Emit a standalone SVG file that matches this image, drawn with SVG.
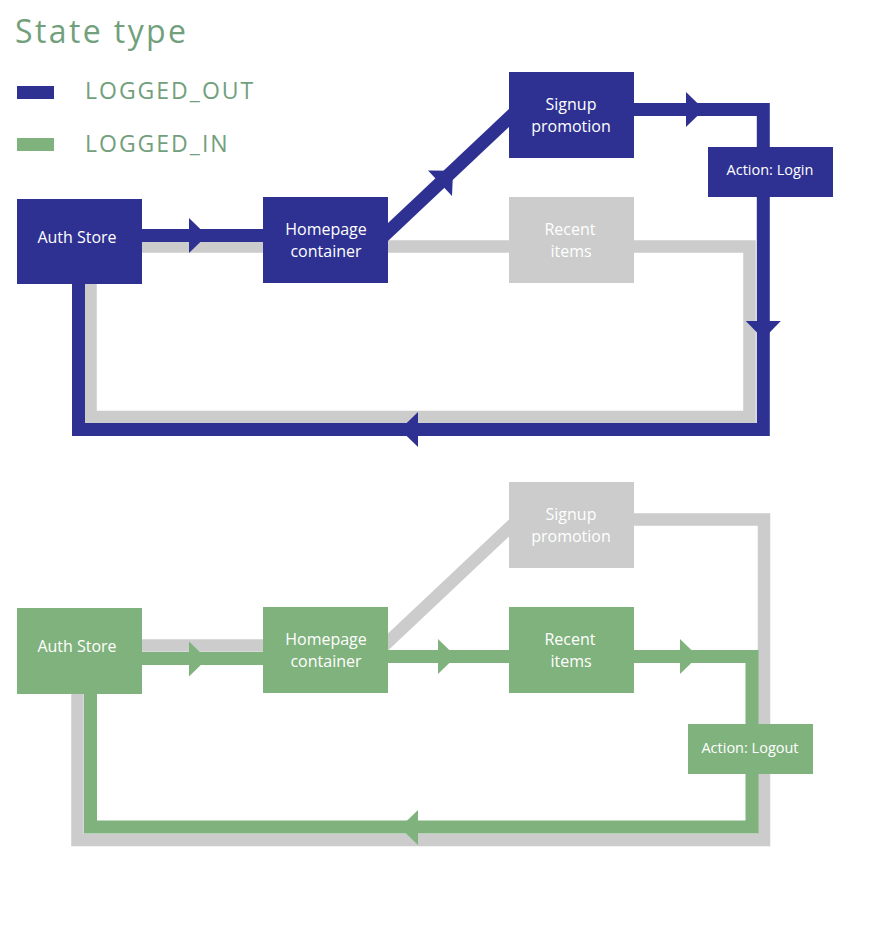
<svg xmlns="http://www.w3.org/2000/svg" xmlns:xlink="http://www.w3.org/1999/xlink" width="880" height="927" viewBox="0 0 880 927">
<defs>
<style>
.bg{fill:#ffffff}
.blue{fill:#2E3192}
.green{fill:#7FB27D}
.grey{fill:#CBCCCB}
.lb{fill:none;stroke:#2E3192;stroke-width:13;stroke-linejoin:miter}
.lg{fill:none;stroke:#7FB27D;stroke-width:13;stroke-linejoin:miter}
.lx{fill:none;stroke:#CBCCCB;stroke-width:12.5;stroke-linejoin:miter}
.nt{font-family:"Open Sans","Liberation Sans",sans-serif;font-size:16px;fill:#ffffff;text-anchor:middle}
.at{font-family:"Open Sans","Liberation Sans",sans-serif;font-size:14.5px;fill:#ffffff;text-anchor:middle}
.title{font-family:"Open Sans","Liberation Sans",sans-serif;font-size:32px;fill:#72A07C;letter-spacing:2.4px}
.leg{font-family:"Open Sans","Liberation Sans",sans-serif;font-size:23px;fill:#72A07C;letter-spacing:2px}
</style>
<polygon id="ah" points="0,-17.5 18,0 0,17.5"/>
</defs>
<rect class="bg" x="0" y="0" width="880" height="927"/>

<g id="legend">
<text class="title" x="15" y="43">State type</text>
<rect class="blue" x="17" y="86" width="37" height="13"/>
<text class="leg" x="85" y="99">LOGGED_OUT</text>
<rect class="green" x="17" y="138" width="37" height="13"/>
<text class="leg" x="85" y="152">LOGGED_IN</text>
</g>

<g id="connectors">
<!-- top diagram -->
<path class="lx" d="M142,246.5 H749.5 V417 H90.5 V284"/>
<path class="lb" d="M142,235.5 H263"/>
<path class="lb" d="M373.4,245.8 L523.6,104.2"/>
<path class="lb" d="M634,109.5 H763.3 V147"/>
<path class="lb" d="M763.3,197 V429.5 H78.5 V284"/>
<use xlink:href="#ah" class="blue" transform="translate(189,235.5)"/>
<use xlink:href="#ah" class="blue" transform="translate(440,183.2) rotate(-43.3)"/>
<use xlink:href="#ah" class="blue" transform="translate(686,109.5)"/>
<use xlink:href="#ah" class="blue" transform="translate(763.3,321) rotate(90)"/>
<use xlink:href="#ah" class="blue" transform="translate(418,429.5) rotate(180)"/>
<!-- bottom diagram -->
<path class="lx" d="M142,645.5 H263"/>
<path class="lx" d="M373.4,655.8 L523.6,514.2"/>
<path class="lx" d="M634,519.5 H764 V840 H77.5 V694"/>
<path class="lg" d="M142,658.5 H263"/>
<path class="lg" d="M388,656.5 H752 V827 H90.5 V694"/>
<use xlink:href="#ah" class="green" transform="translate(189,659)"/>
<use xlink:href="#ah" class="green" transform="translate(438,656.5)"/>
<use xlink:href="#ah" class="green" transform="translate(680,656.5)"/>
<use xlink:href="#ah" class="green" transform="translate(418,827.5) rotate(180)"/>
</g>

<g id="auth-store-out">
<rect class="blue" x="17" y="199" width="125" height="85"/>
<text class="nt" x="77" y="243">Auth Store</text>
</g>
<g id="homepage-out">
<rect class="blue" x="263" y="197" width="125" height="86"/>
<text class="nt" x="326" y="235">Homepage</text>
<text class="nt" x="326" y="257">container</text>
</g>
<g id="signup-out">
<rect class="blue" x="509" y="72" width="125" height="86"/>
<text class="nt" x="571" y="110">Signup</text>
<text class="nt" x="571" y="132">promotion</text>
</g>
<g id="recent-out">
<rect class="grey" x="509" y="197" width="125" height="86"/>
<text class="nt" x="570" y="235">Recent</text>
<text class="nt" x="571" y="257">items</text>
</g>
<g id="action-login">
<rect class="blue" x="708" y="147" width="125" height="50"/>
<text class="at" x="770" y="175">Action: Login</text>
</g>

<g id="auth-store-in">
<rect class="green" x="17" y="608" width="125" height="86"/>
<text class="nt" x="77" y="652">Auth Store</text>
</g>
<g id="homepage-in">
<rect class="green" x="263" y="607" width="125" height="86"/>
<text class="nt" x="326" y="645">Homepage</text>
<text class="nt" x="326" y="667">container</text>
</g>
<g id="signup-in">
<rect class="grey" x="509" y="482" width="125" height="86"/>
<text class="nt" x="571" y="520">Signup</text>
<text class="nt" x="571" y="542">promotion</text>
</g>
<g id="recent-in">
<rect class="green" x="509" y="607" width="125" height="86"/>
<text class="nt" x="570" y="645">Recent</text>
<text class="nt" x="571" y="667">items</text>
</g>
<g id="action-logout">
<rect class="green" x="688" y="724" width="125" height="50"/>
<text class="at" x="750" y="753">Action: Logout</text>
</g>
</svg>
